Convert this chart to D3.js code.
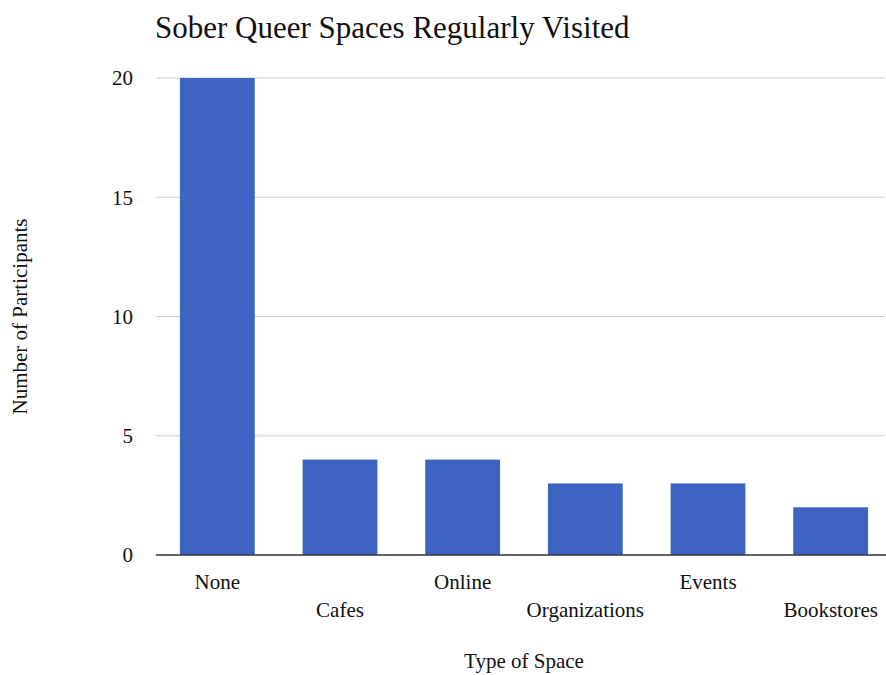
<!DOCTYPE html>
<html>
<head>
<meta charset="utf-8">
<script src="https://cdn.jsdelivr.net/npm/d3@7"></script>
<style>
  html, body { margin: 0; padding: 0; background: #ffffff; }
  svg { display: block; font-family: "Liberation Serif", "Times New Roman", serif; }
</style>
</head>
<body>
<svg id="chart" width="886" height="675"></svg>
<script>
// Survey answers: sober queer spaces participants visit regularly
const categories = ["None", "Cafes", "Online", "Organizations", "Events", "Bookstores"];
const participants = [20, 4, 4, 3, 3, 2];
const yTicks = [0, 5, 10, 15, 20];

const titleText = "Sober Queer Spaces Regularly Visited";
const xTitle = "Type of Space";
const yTitle = "Number of Participants";

const svg = d3.select("#chart");

const plot = { left: 156, right: 892, top: 78, bottom: 555, gridEnd: 885 };

const x = d3.scaleBand()
  .domain(categories)
  .range([plot.left, plot.right])
  .paddingInner(0.39)
  .paddingOuter(0.195);

const y = d3.scaleLinear()
  .domain([0, 20])
  .range([plot.bottom, plot.top]);

// horizontal gridlines
svg.append("g")
  .selectAll("line")
  .data(yTicks.filter(t => t !== 0))
  .join("line")
  .attr("x1", plot.left)
  .attr("x2", plot.gridEnd)
  .attr("y1", d => y(d))
  .attr("y2", d => y(d))
  .attr("stroke", "#cccccc")
  .attr("stroke-width", 1.2);

// y tick labels
svg.append("g")
  .selectAll("text")
  .data(yTicks)
  .join("text")
  .attr("x", 133)
  .attr("y", d => y(d))
  .attr("dy", "0.35em")
  .attr("text-anchor", "end")
  .attr("font-size", 21)
  .attr("fill", "#111")
  .text(d => d);

// bars
svg.append("g")
  .selectAll("rect")
  .data(categories.map((c, i) => ({ c, v: participants[i] })))
  .join("rect")
  .attr("x", d => x(d.c))
  .attr("width", x.bandwidth())
  .attr("y", d => y(d.v))
  .attr("height", d => y(0) - y(d.v))
  .attr("fill", "#3d64c2");

// baseline
svg.append("line")
  .attr("x1", plot.left)
  .attr("x2", plot.gridEnd + 1)
  .attr("y1", y(0))
  .attr("y2", y(0))
  .attr("stroke", "#333333")
  .attr("stroke-width", 1.6);

// category labels, staggered over two rows
svg.append("g")
  .selectAll("text")
  .data(categories)
  .join("text")
  .attr("x", d => x(d) + x.bandwidth() / 2)
  .attr("y", (d, i) => i % 2 === 0 ? 589 : 617)
  .attr("text-anchor", "middle")
  .attr("font-size", 21)
  .attr("fill", "#111")
  .text(d => d);

// title
svg.append("text")
  .attr("x", 155)
  .attr("y", 38)
  .attr("font-size", 31)
  .attr("fill", "#111")
  .text(titleText);

// axis titles
svg.append("text")
  .attr("x", (plot.left + plot.right) / 2)
  .attr("y", 668)
  .attr("text-anchor", "middle")
  .attr("font-size", 21)
  .attr("fill", "#111")
  .text(xTitle);

svg.append("text")
  .attr("transform", `translate(27, ${(plot.top + plot.bottom) / 2}) rotate(-90)`)
  .attr("text-anchor", "middle")
  .attr("font-size", 21)
  .attr("fill", "#111")
  .text(yTitle);
</script>
</body>
</html>
